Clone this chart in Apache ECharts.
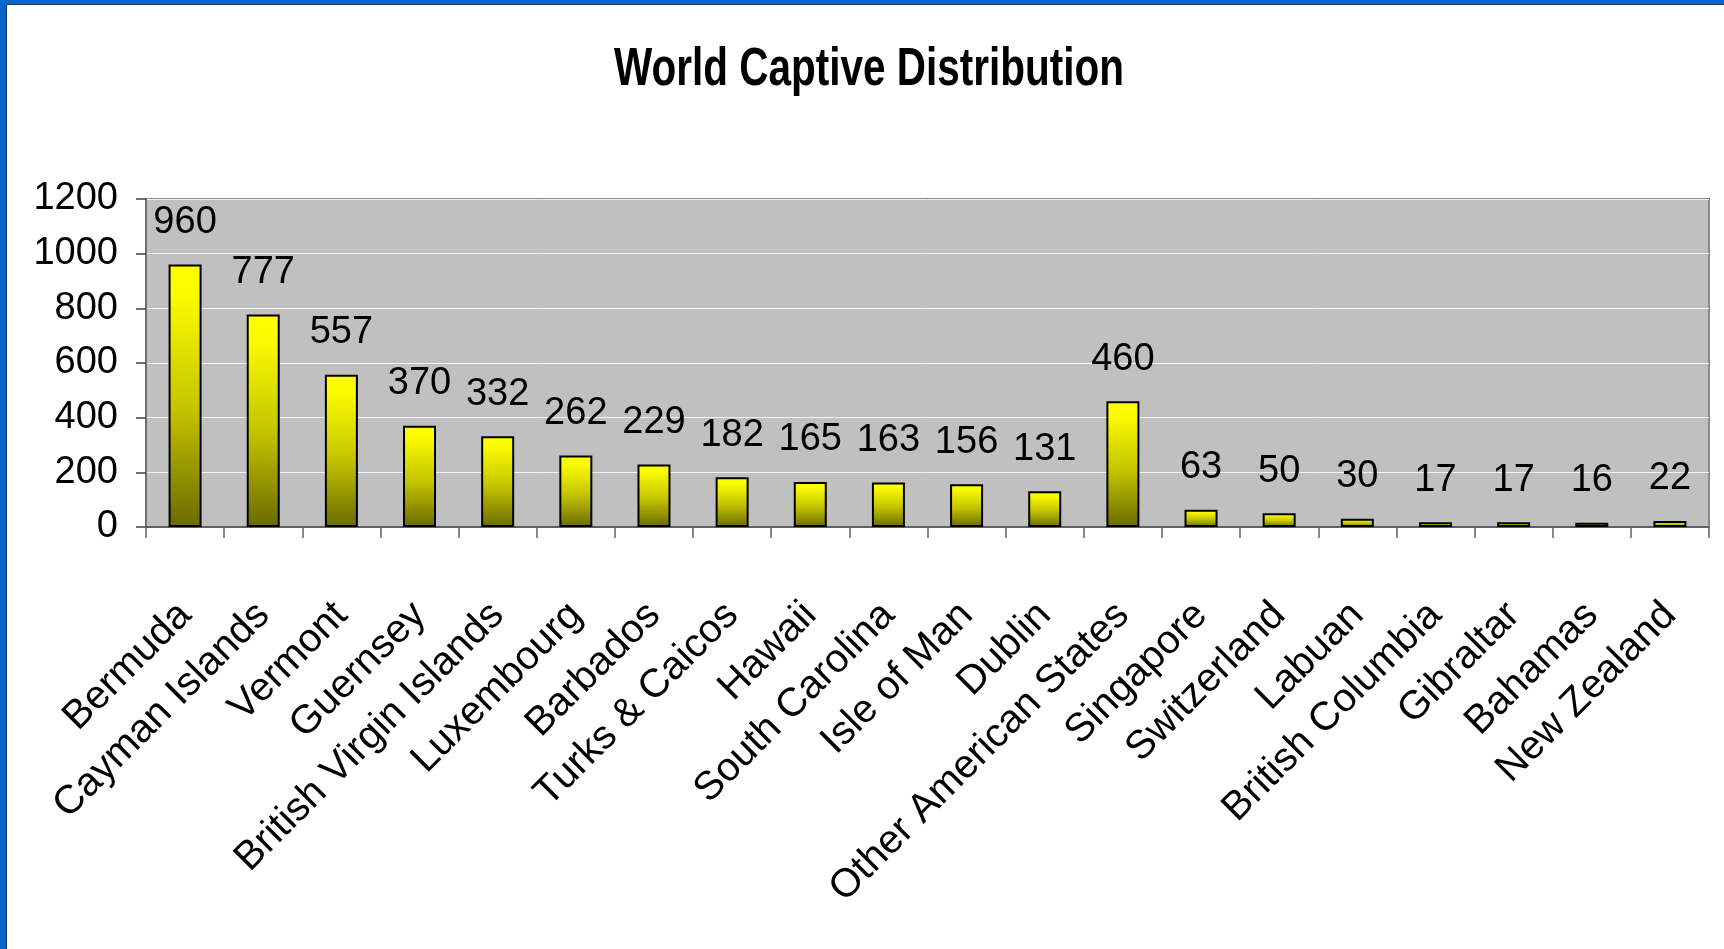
<!DOCTYPE html>
<html>
<head>
<meta charset="utf-8">
<title>World Captive Distribution</title>
<script src="https://cdn.jsdelivr.net/npm/echarts@6/dist/echarts.min.js"></script>
<style>
  html, body { margin: 0; padding: 0; background: #fff; }
  #chart { width: 1724px; height: 949px; }
</style>
</head>
<body>
<div id="chart"></div>
<script>
// data
const domiciles = [
  'Bermuda', 'Cayman Islands', 'Vermont', 'Guernsey', 'British Virgin Islands',
  'Luxembourg', 'Barbados', 'Turks & Caicos', 'Hawaii', 'South Carolina',
  'Isle of Man', 'Dublin', 'Other American States', 'Singapore', 'Switzerland',
  'Labuan', 'British Columbia', 'Gibraltar', 'Bahamas', 'New Zealand'
];
const captives = [960, 777, 557, 370, 332, 262, 229, 182, 165, 163, 156, 131, 460, 63, 50, 30, 17, 17, 16, 22];
const yTicks = [0, 200, 400, 600, 800, 1000, 1200];

const font = '"Liberation Sans", Arial, sans-serif';

const myChart = echarts.init(document.getElementById('chart'), null, { renderer: 'canvas' });

const barFill = new echarts.graphic.LinearGradient(0, 0, 0, 1, [
  { offset: 0, color: '#ffff00' },
  { offset: 0.12, color: '#fbfb00' },
  { offset: 0.55, color: '#c4c400' },
  { offset: 1, color: '#6a6a00' }
]);

const option = {
  animation: false,
  backgroundColor: '#ffffff',
  grid: {
    left: 146,
    right: 15,
    top: 199,
    bottom: 422,
    show: true,
    backgroundColor: '#c0c0c0',
    borderColor: '#8a8a8a',
    borderWidth: 2
  },
  xAxis: {
    type: 'category',
    data: domiciles,
    axisLine: { lineStyle: { color: '#606060', width: 2 } },
    axisTick: { show: true, length: 11, lineStyle: { color: '#606060', width: 1.5 } },
    axisLabel: {
      interval: 0,
      rotate: 45,
      margin: 82,
      fontFamily: font,
      fontSize: 40,
      color: '#000'
    }
  },
  yAxis: {
    type: 'value',
    min: yTicks[0],
    max: yTicks[yTicks.length - 1],
    interval: 200,
    axisLine: { show: true, lineStyle: { color: '#707070', width: 2 } },
    axisTick: { show: true, length: 10, lineStyle: { color: '#404040', width: 1.5 } },
    splitLine: { lineStyle: { color: '#f2f2f2', width: 1 } },
    axisLabel: {
      margin: 28,
      fontFamily: font,
      fontSize: 38,
      color: '#000',
      formatter: (v) => String(v)
    }
  },
  series: [
    {
      type: 'bar',
      data: captives,
      barWidth: 33,
      itemStyle: {
        color: barFill,
        borderColor: '#000',
        borderWidth: 2
      },
      label: {
        show: true,
        position: 'top',
        distance: 23,
        fontFamily: font,
        fontSize: 38,
        color: '#000'
      }
    }
  ],
  graphic: [
    // title, squeezed like the narrow bold face of the original
    {
      type: 'text',
      x: 869,
      y: 70,
      scaleX: 0.75,
      style: {
        text: 'World Captive Distribution',
        fontFamily: font,
        fontWeight: 'bold',
        fontSize: 54,
        fill: '#000',
        align: 'center',
        verticalAlign: 'middle'
      }
    },
    // blue window frame on the left and top edges
    { type: 'rect', left: 0, top: 0, shape: { width: 6, height: 949 }, style: { fill: '#0563cc' }, z: 100 },
    { type: 'rect', left: 0, top: 0, shape: { width: 1724, height: 4 }, style: { fill: '#0563cc' }, z: 100 },
    { type: 'rect', left: 6, top: 4, shape: { width: 1, height: 945 }, style: { fill: '#1a3050' }, z: 100 },
    { type: 'rect', left: 6, top: 4, shape: { width: 1718, height: 1 }, style: { fill: '#2a3a4a' }, z: 100 }
  ]
};

myChart.setOption(option);
</script>
</body>
</html>
